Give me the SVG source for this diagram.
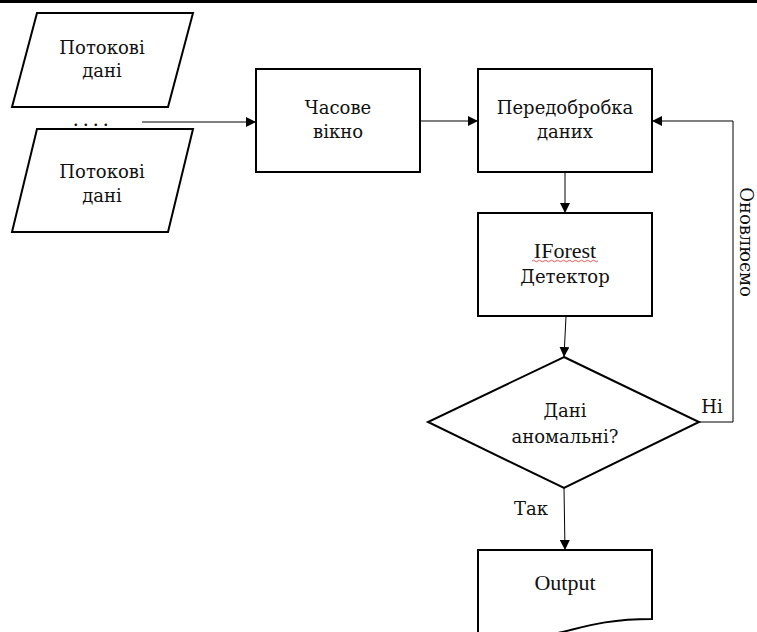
<svg xmlns="http://www.w3.org/2000/svg" width="757" height="632" viewBox="0 0 757 632">
<style>
.shape{fill:#fff;stroke:#000;stroke-width:2;stroke-linejoin:miter}
.t{font-family:"DejaVu Serif","Liberation Serif",serif;font-size:18px;fill:#111;text-anchor:middle}
.tl{font-family:"Liberation Serif","DejaVu Serif",serif;font-size:22px;fill:#111;text-anchor:middle}
.c{fill:none;stroke:#000;stroke-width:1}
</style>
<defs>
<marker id="ah" markerUnits="userSpaceOnUse" markerWidth="10" markerHeight="10" refX="10" refY="5" orient="auto">
<path d="M0,0 L10,5 L0,10 Z" fill="#000"/>
</marker>
</defs>
<rect x="0" y="0" width="757" height="632" fill="#fff"/>
<rect x="0" y="0" width="757" height="3" fill="#000"/>

<g id="stream1">
<polygon class="shape" points="37,13 193,13 168,107 12,107"/>
<text class="t" x="102" y="54">Потокові</text>
<text class="t" x="102" y="77">дані</text>
</g>
<g id="dots">
<text class="tl" x="93" y="126" letter-spacing="4.5">....</text>
</g>
<g id="stream2">
<polygon class="shape" points="37,129 193,129 168,232 12,232"/>
<text class="t" x="102" y="178">Потокові</text>
<text class="t" x="102" y="202">дані</text>
</g>
<g id="window">
<rect class="shape" x="256" y="69" width="164" height="103"/>
<text class="t" x="338" y="114">Часове</text>
<text class="t" x="338" y="138">вікно</text>
</g>
<g id="preprocess">
<rect class="shape" x="478" y="69" width="174" height="103"/>
<text class="t" x="565" y="114">Передобробка</text>
<text class="t" x="565" y="138">даних</text>
</g>
<g id="detector">
<rect class="shape" x="478" y="213" width="174" height="103"/>
<text class="tl" x="565" y="258">IForest</text>
<path d="M532,261 q1.5,-1.5 3,0 t3,0 t3,0 t3,0 t3,0 t3,0 t3,0 t3,0 t3,0 t3,0 t3,0 t3,0 t3,0 t3,0 t3,0 t3,0 t3,0 t3,0 t3,0 t3,0 t3,0 t3,0" fill="none" stroke="#e03030" stroke-width="0.8"/>
<text class="t" x="565" y="283">Детектор</text>
</g>
<g id="decision">
<polygon class="shape" points="564,357 699,422 564,488 428,422"/>
<text class="t" x="565" y="417">Дані</text>
<text class="t" x="565" y="443">аномальні?</text>
</g>
<g id="output">
<path class="shape" d="M478,550 H652 V619 C565,619 565,647 478,634 Z"/>
<text class="tl" x="565" y="590">Output</text>
</g>
<g id="connectors">
<line class="c" x1="142" y1="122" x2="256" y2="122" marker-end="url(#ah)"/>
<line class="c" x1="420" y1="121" x2="478" y2="121" marker-end="url(#ah)"/>
<line class="c" x1="565" y1="172" x2="565" y2="213" marker-end="url(#ah)"/>
<line class="c" x1="566" y1="316" x2="564" y2="357" marker-end="url(#ah)"/>
<line class="c" x1="564" y1="488" x2="565" y2="550" marker-end="url(#ah)"/>
<polyline class="c" points="699,422 733,422 733,121 652,121" stroke="#555" marker-end="url(#ah)"/>
<text class="t" x="712" y="413">Ні</text>
<text class="t" x="531" y="515">Так</text>
<text class="t" transform="translate(740,242) rotate(90)" x="0" y="0">Оновлюємо</text>
</g>
</svg>
